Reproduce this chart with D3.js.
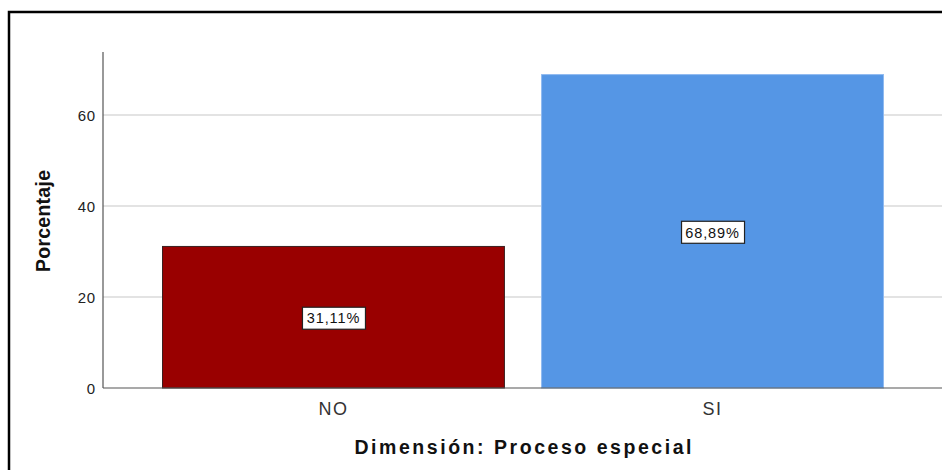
<!DOCTYPE html>
<meta charset="utf-8">
<style>
    body { margin: 0; background: #fff; }
    svg { display: block; font-family: Arial, "Liberation Sans", sans-serif; }
    .grid line { stroke: #c8c8c8; stroke-width: 1.2px; }
    .tick-y { font-size: 15px; fill: #222; letter-spacing: 0.8px; }
    .tick-x { font-size: 18px; fill: #333; letter-spacing: 1.4px; }
    .title { font-size: 19.5px; font-weight: bold; fill: #111; }
    .val { font-size: 14.5px; fill: #111; letter-spacing: 0.9px; }
</style>
<svg width="942" height="470"></svg>
<script src="https://cdn.jsdelivr.net/npm/d3@7"></script>
<script>
    // datos
    var categories = ['NO', 'SI'];
    var values = [31.11, 68.89];
    var labels = ['31,11%', '68,89%'];
    var colors = ['#990000', '#5596e5'];
    var yTicks = [0, 20, 40, 60];

    var svg = d3.select('svg');
    var m = { left: 103, right: 943, top: 52, bottom: 388 };

    // marco negro (solo arriba e izquierda visibles)
    svg.append('path')
        .attr('d', 'M9,470 V12 H942')
        .attr('fill', 'none')
        .attr('stroke', '#000')
        .attr('stroke-width', 2.5);

    var x = d3.scaleBand()
        .domain(categories)
        .range([m.left, m.right])
        .paddingInner(0.098)
        .paddingOuter(0.157);
    var y = d3.scaleLinear()
        .domain([0, 73.85])
        .range([m.bottom, m.top]);

    // líneas de cuadrícula
    svg.append('g').attr('class', 'grid')
        .selectAll('line')
        .data(yTicks.filter(function (d) { return d > 0; }))
        .enter().append('line')
        .attr('x1', m.left).attr('x2', 942)
        .attr('y1', function (d) { return y(d); })
        .attr('y2', function (d) { return y(d); });

    // barras
    svg.selectAll('.bar')
        .data(values)
        .enter().append('rect')
        .attr('class', 'bar')
        .attr('x', function (d, i) { return x(categories[i]); })
        .attr('width', x.bandwidth())
        .attr('y', function (d) { return y(d); })
        .attr('height', function (d) { return y(0) - y(d); })
        .attr('fill', function (d, i) { return colors[i]; })
        .attr('stroke', function (d, i) { return i === 0 ? '#3a2020' : '#8fbaf0'; })
        .attr('stroke-width', 1);

    // ejes
    svg.append('line')
        .attr('x1', m.left).attr('x2', m.left)
        .attr('y1', m.top).attr('y2', m.bottom)
        .attr('stroke', '#555').attr('stroke-width', 1.2);
    svg.append('line')
        .attr('x1', m.left).attr('x2', 942)
        .attr('y1', m.bottom).attr('y2', m.bottom)
        .attr('stroke', '#555').attr('stroke-width', 1.2);

    svg.selectAll('.tick-y')
        .data(yTicks)
        .enter().append('text')
        .attr('class', 'tick-y')
        .attr('x', m.left - 7)
        .attr('y', function (d) { return y(d); })
        .attr('dy', '0.38em')
        .attr('text-anchor', 'end')
        .text(function (d) { return d; });

    svg.selectAll('.tick-x')
        .data(categories)
        .enter().append('text')
        .attr('class', 'tick-x')
        .attr('x', function (d) { return x(d) + x.bandwidth() / 2; })
        .attr('y', 415)
        .attr('text-anchor', 'middle')
        .text(function (d) { return d; });

    // etiquetas de valor
    var lab = svg.selectAll('.lab')
        .data(values)
        .enter().append('g')
        .attr('class', 'lab')
        .attr('transform', function (d, i) {
            return 'translate(' + (x(categories[i]) + x.bandwidth() / 2) + ',' + (y(d / 2) + 1) + ')';
        });
    lab.append('rect')
        .attr('x', -31).attr('y', -11)
        .attr('width', 63).attr('height', 22)
        .attr('fill', '#fff')
        .attr('stroke', '#222').attr('stroke-width', 1.2);
    lab.append('text')
        .attr('class', 'val')
        .attr('text-anchor', 'middle')
        .attr('dy', '0.36em')
        .text(function (d, i) { return labels[i]; });

    // títulos
    svg.append('text')
        .attr('class', 'title')
        .attr('x', (m.left + m.right) / 2)
        .attr('y', 454)
        .attr('text-anchor', 'middle')
        .attr('textLength', 337)
        .attr('lengthAdjust', 'spacing')
        .text('Dimensión: Proceso especial');
    svg.append('text')
        .attr('class', 'title')
        .attr('transform', 'translate(50,221) rotate(-90)')
        .attr('text-anchor', 'middle')
        .attr('textLength', 102)
        .attr('lengthAdjust', 'spacing')
        .text('Porcentaje');
</script>
